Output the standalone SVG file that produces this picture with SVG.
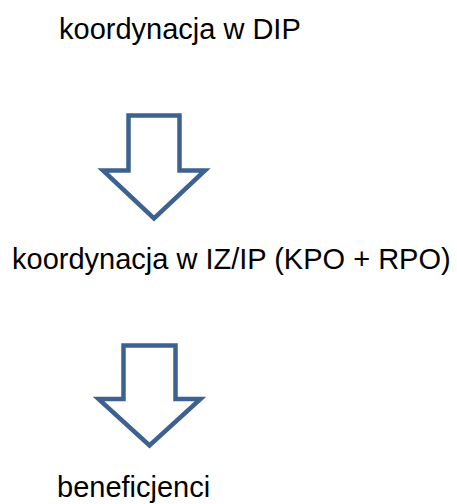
<svg xmlns="http://www.w3.org/2000/svg" width="457" height="504" viewBox="0 0 457 504">
<style>
.t{font-family:"Liberation Sans",Arial,sans-serif;font-size:29px;fill:#000}
.a{fill:#fff;stroke:#3d6190;stroke-width:4.5;stroke-linejoin:miter}
</style>
<rect width="457" height="504" fill="#fff"/>
<g id="n1"><text class="t" x="59" y="39">koordynacja w DIP</text></g>
<g id="n2"><text class="t" x="12" y="269">koordynacja w IZ/IP (KPO + RPO)</text></g>
<g id="n3"><text class="t" x="57" y="497">beneficjenci</text></g>
<g id="connectors">
<polygon class="a" points="128.5,115.5 179.5,115.5 179.5,170.5 205,170.5 154,218.5 103,170.5 128.5,170.5"/>
<polygon class="a" points="123.5,345.5 175.5,345.5 175.5,399 200.5,399 149.5,445.5 98.5,399 123.5,399"/>
</g>
</svg>
